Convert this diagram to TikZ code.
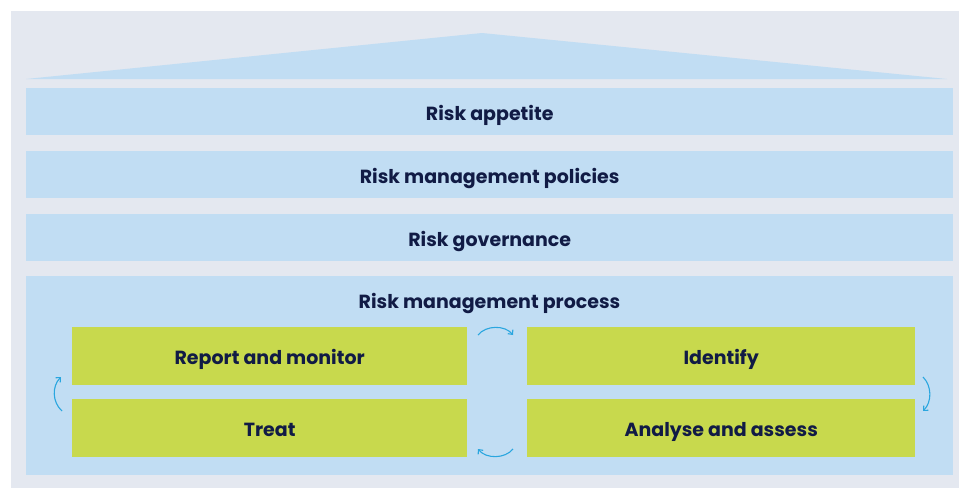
\documentclass[tikz,border=0pt]{standalone}
\usepackage{fontspec}
\setmainfont{Poppins}[BoldFont={* Bold}]
\usetikzlibrary{arrows.meta}
\definecolor{bgGray}{HTML}{E4E8F0}
\definecolor{barBlue}{HTML}{C1DDF3}
\definecolor{stepGreen}{HTML}{C8D94D}
\definecolor{txtNavy}{HTML}{111B45}
\definecolor{arrCyan}{HTML}{2AA6DF}
\tikzset{
  bar/.style={fill=barBlue, draw=none, inner sep=0pt, anchor=north west},
  stepbox/.style={fill=stepGreen, draw=none, inner sep=0pt, anchor=north west},
  lbl/.style={text=txtNavy, font=\fontsize{19}{21}\selectfont\bfseries, inner sep=0pt, anchor=base},
  cyc/.style={draw=arrCyan, line width=1.1pt, -{Straight Barb[length=3.5pt,width=6.5pt]}},
}
\begin{document}
\begin{tikzpicture}[x=1pt,y=-1pt]
\useasboundingbox (0,0) rectangle (959,488);
\fill[bgGray] (11,11) rectangle (959,488);
% roof
\fill[barBlue] (26,79) -- (482,33) -- (947,79) -- cycle;
% bars
\node[bar, minimum width=927pt, minimum height=47pt] (appetite) at (26,88) {};
\node[bar, minimum width=927pt, minimum height=47pt] (policies) at (26,151) {};
\node[bar, minimum width=927pt, minimum height=47pt] (governance) at (26,214) {};
\node[bar, minimum width=927pt, minimum height=199pt] (process) at (26,276) {};
\node[lbl] at ([yshift=-8.5pt]appetite.center) {Risk appetite};
\node[lbl] at ([yshift=-8.5pt]policies.center) {Risk management policies};
\node[lbl] at ([yshift=-8.5pt]governance.center) {Risk governance};
\node[lbl] (proclbl) at (489.5,308) {Risk management process};
% steps
\node[stepbox, minimum width=395pt, minimum height=58pt] (report) at (72,327) {};
\node[stepbox, minimum width=388pt, minimum height=58pt] (identify) at (527,327) {};
\node[stepbox, minimum width=395pt, minimum height=58pt] (treat) at (72,399) {};
\node[stepbox, minimum width=388pt, minimum height=58pt] (analyse) at (527,399) {};
\node[lbl] at ([yshift=-8pt]report.center) {Report and monitor};
\node[lbl] at ([yshift=-8pt]identify.center) {Identify};
\node[lbl] at ([yshift=-8pt]treat.center) {Treat};
\node[lbl] at ([yshift=-8pt]analyse.center) {Analyse and assess};
% cycle arrows
\coordinate (t1) at (478,335); \coordinate (t2) at (513,335);
\coordinate (r1) at (923,377); \coordinate (r2) at (923,411);
\coordinate (b1) at (513,449); \coordinate (b2) at (478,449);
\coordinate (l1) at (62,411); \coordinate (l2) at (61,377);
\draw[cyc] (t1) .. controls (486,325) and (505,325) .. (t2);
\draw[cyc] (r1) .. controls (932,386) and (932,402) .. (r2);
\draw[cyc] (b1) .. controls (505,459) and (486,459) .. (b2);
\draw[cyc] (l1) .. controls (52,402) and (52,386) .. (l2);
\end{tikzpicture}
\end{document}
